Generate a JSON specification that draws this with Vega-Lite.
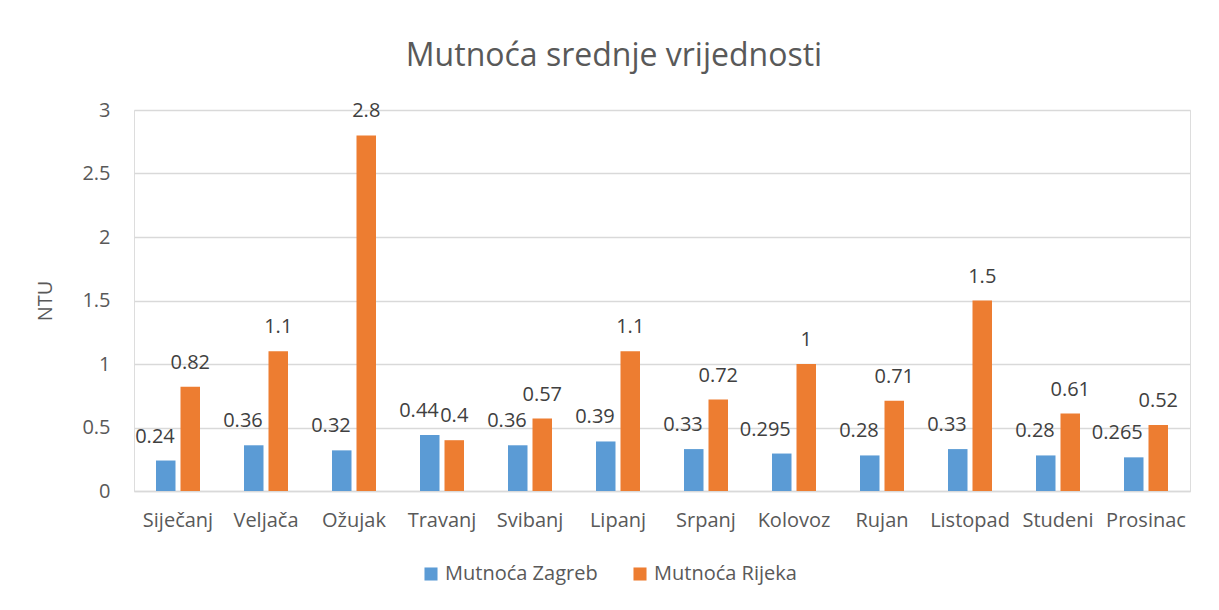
{
  "$schema": "https://vega.github.io/schema/vega-lite/v6.json",
  "width": 1056,
  "height": 381,
  "autosize": {"type": "none"},
  "padding": {"left": 134, "top": 110, "right": 29, "bottom": 119},
  "background": "white",
  "title": {
    "text": "Mutnoća srednje vrijednosti",
    "anchor": "middle",
    "fontSize": 32,
    "font": "Open Sans",
    "fontWeight": "normal",
    "color": "#595959",
    "offset": 27,
    "dx": -48
  },
  "data": {
    "values": [
      {"month": "Siječanj", "city": "Mutnoća Zagreb", "value": 0.24},
      {"month": "Siječanj", "city": "Mutnoća Rijeka", "value": 0.82},
      {"month": "Veljača", "city": "Mutnoća Zagreb", "value": 0.36},
      {"month": "Veljača", "city": "Mutnoća Rijeka", "value": 1.1},
      {"month": "Ožujak", "city": "Mutnoća Zagreb", "value": 0.32},
      {"month": "Ožujak", "city": "Mutnoća Rijeka", "value": 2.8},
      {"month": "Travanj", "city": "Mutnoća Zagreb", "value": 0.44},
      {"month": "Travanj", "city": "Mutnoća Rijeka", "value": 0.4},
      {"month": "Svibanj", "city": "Mutnoća Zagreb", "value": 0.36},
      {"month": "Svibanj", "city": "Mutnoća Rijeka", "value": 0.57},
      {"month": "Lipanj", "city": "Mutnoća Zagreb", "value": 0.39},
      {"month": "Lipanj", "city": "Mutnoća Rijeka", "value": 1.1},
      {"month": "Srpanj", "city": "Mutnoća Zagreb", "value": 0.33},
      {"month": "Srpanj", "city": "Mutnoća Rijeka", "value": 0.72},
      {"month": "Kolovoz", "city": "Mutnoća Zagreb", "value": 0.295},
      {"month": "Kolovoz", "city": "Mutnoća Rijeka", "value": 1},
      {"month": "Rujan", "city": "Mutnoća Zagreb", "value": 0.28},
      {"month": "Rujan", "city": "Mutnoća Rijeka", "value": 0.71},
      {"month": "Listopad", "city": "Mutnoća Zagreb", "value": 0.33},
      {"month": "Listopad", "city": "Mutnoća Rijeka", "value": 1.5},
      {"month": "Studeni", "city": "Mutnoća Zagreb", "value": 0.28},
      {"month": "Studeni", "city": "Mutnoća Rijeka", "value": 0.61},
      {"month": "Prosinac", "city": "Mutnoća Zagreb", "value": 0.265},
      {"month": "Prosinac", "city": "Mutnoća Rijeka", "value": 0.52}
    ]
  },
  "encoding": {
    "x": {
      "field": "month",
      "type": "nominal",
      "sort": null,
      "scale": {"paddingInner": 0, "paddingOuter": 0},
      "axis": {
        "title": null,
        "labelAngle": 0,
        "labelFont": "Open Sans",
        "labelFontSize": 20,
        "labelColor": "#595959",
        "labelPadding": 19,
        "ticks": false,
        "domainColor": "#D9D9D9",
        "domainWidth": 1.5
      }
    },
    "xOffset": {
      "field": "city",
      "type": "nominal",
      "sort": ["Mutnoća Zagreb", "Mutnoća Rijeka"],
      "scale": {"paddingInner": 0.204, "paddingOuter": 0.898}
    },
    "y": {
      "field": "value",
      "type": "quantitative",
      "scale": {"domain": [0, 3]},
      "axis": {
        "title": "NTU",
        "titleFont": "Open Sans",
        "titleFontSize": 20,
        "titleFontWeight": "normal",
        "titleColor": "#595959",
        "titlePadding": 26,
        "values": [0, 0.5, 1, 1.5, 2, 2.5, 3],
        "format": "~g",
        "labelFont": "Open Sans",
        "labelFontSize": 20,
        "labelColor": "#595959",
        "labelPadding": 24,
        "ticks": false,
        "domain": false,
        "gridColor": "#D9D9D9",
        "gridWidth": 1.5
      }
    }
  },
  "layer": [
    {
      "mark": {"type": "bar"},
      "encoding": {
        "color": {
          "field": "city",
          "type": "nominal",
          "sort": ["Mutnoća Zagreb", "Mutnoća Rijeka"],
          "scale": {"domain": ["Mutnoća Zagreb", "Mutnoća Rijeka"], "range": ["#5B9BD5", "#ED7D31"]},
          "legend": {
            "title": null,
            "orient": "none",
            "legendX": 287,
            "legendY": 454,
            "direction": "horizontal",
            "symbolType": "square",
            "symbolSize": 170,
            "symbolStrokeWidth": 0,
            "labelFont": "Open Sans",
            "labelFontSize": 20,
            "labelColor": "#595959",
            "columnPadding": 32
          }
        }
      }
    },
    {
      "transform": [{"filter": "datum.city === 'Mutnoća Zagreb'"}],
      "mark": {"type": "text", "baseline": "middle", "align": "right", "dx": 9, "dy": -24, "font": "Open Sans", "fontSize": 20, "color": "#404040"},
      "encoding": {
        "text": {"field": "value", "type": "quantitative", "format": "~g"}
      }
    },
    {
      "transform": [{"filter": "datum.city === 'Mutnoća Rijeka'"}],
      "mark": {"type": "text", "baseline": "middle", "align": "center", "dy": -24, "font": "Open Sans", "fontSize": 20, "color": "#404040"},
      "encoding": {
        "text": {"field": "value", "type": "quantitative", "format": "~g"}
      }
    }
  ]
}
